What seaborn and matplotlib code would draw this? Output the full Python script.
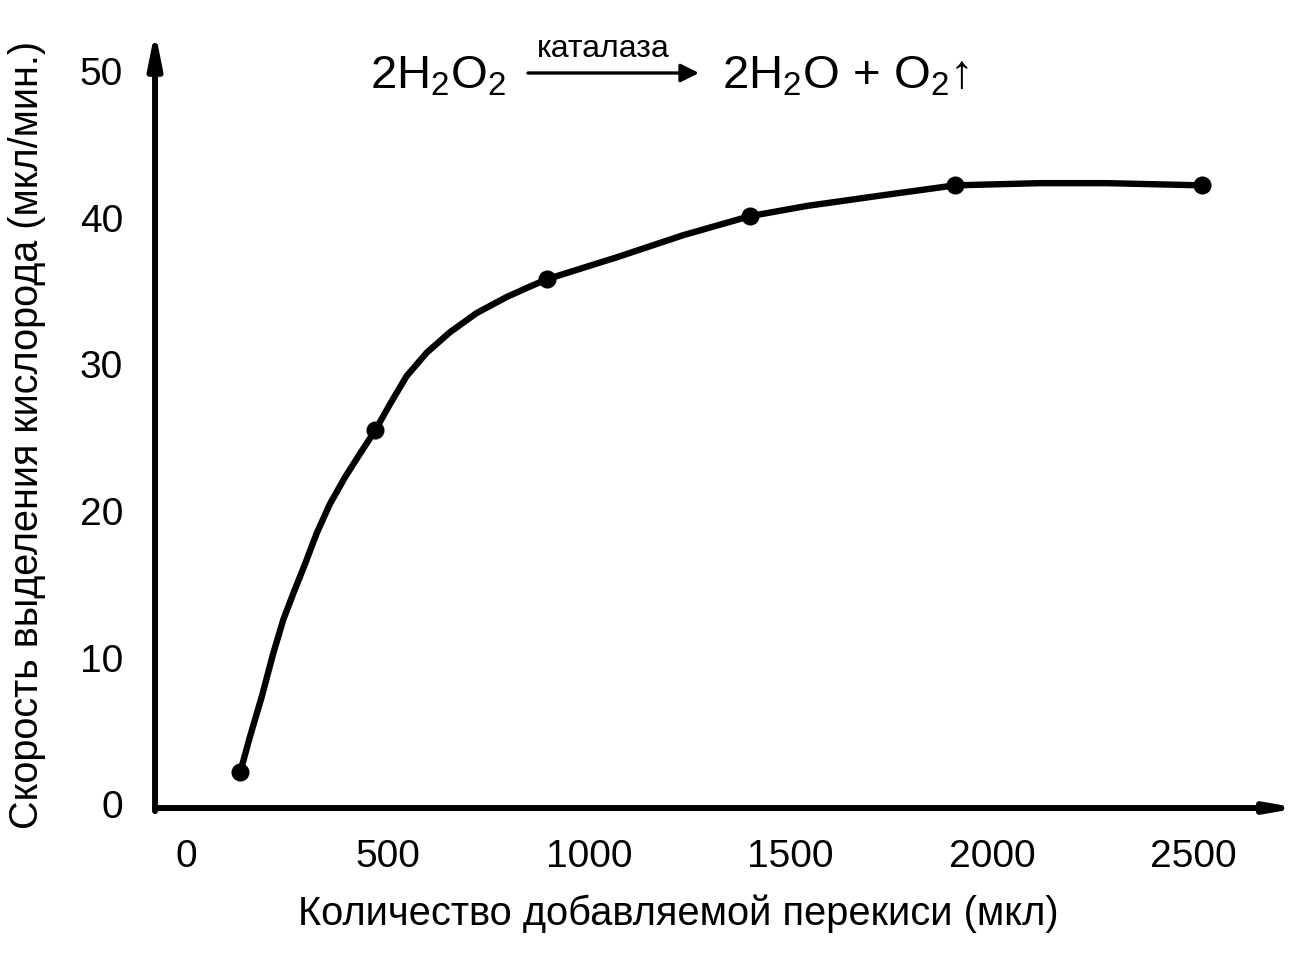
import matplotlib
matplotlib.use("Agg")
import matplotlib.pyplot as plt
import seaborn as sns

# ---- data ----
peroxide_ul = [134, 469, 895, 1399, 1908, 2521]
o2_rate = [2.2, 25.5, 35.8, 40.1, 42.2, 42.2]

# smooth curve through the points
curve_x = [134, 158, 187, 216, 241, 266, 295, 324, 357, 394, 431, 469,
           506, 547, 597, 655, 721, 796, 853, 895, 1069, 1233, 1399,
           1541, 1722, 1908, 2119, 2285, 2521]
curve_y = [2.2, 4.6, 7.3, 10.3, 12.6, 14.4, 16.4, 18.5, 20.5, 22.3, 23.9, 25.5,
           27.3, 29.2, 30.8, 32.2, 33.5, 34.6, 35.3, 35.8, 37.3, 38.8, 40.1,
           40.8, 41.5, 42.2, 42.35, 42.35, 42.2]

x_ticks = [0, 500, 1000, 1500, 2000, 2500]
y_ticks = [0, 10, 20, 30, 40, 50]

x_label = "Количество добавляемой перекиси (мкл)"
y_label = "Скорость выделения кислорода (мкл/мин.)"
catalyst = "каталаза"

sns.set_theme(style="white")
plt.rcParams["font.family"] = ["Liberation Sans", "DejaVu Sans"]
plt.rcParams["text.color"] = "black"
plt.rcParams["axes.labelcolor"] = "black"
plt.rcParams["xtick.color"] = "black"
plt.rcParams["ytick.color"] = "black"

fig = plt.figure(figsize=(12.92, 9.72), dpi=100)
ax = fig.add_axes([0.12, 0.1687, 0.8746, 0.787])

sns.lineplot(x=curve_x, y=curve_y, sort=False, color="black", linewidth=4.6,
             solid_joinstyle="round", solid_capstyle="round", ax=ax)
sns.scatterplot(x=peroxide_ul, y=o2_rate, s=13 ** 2, color="black",
                edgecolor="black", linewidth=0, zorder=3, ax=ax)

ax.set_xlim(-77.4, 2727)
ax.set_ylim(-0.245, 51.9)
for s in ax.spines.values():
    s.set_visible(False)

ax.set_xticks(x_ticks)
ax.set_yticks(y_ticks)
ax.set_xticklabels([str(v) for v in x_ticks])
ax.set_yticklabels([str(v) for v in y_ticks])
ax.tick_params(axis="both", length=0, labelsize=28, colors="black")
ax.tick_params(axis="x", pad=22)
ax.tick_params(axis="y", pad=23)

ax.set_xlabel(x_label, fontsize=28.7, color="black")
ax.set_ylabel(y_label, fontsize=28.5, color="black")
ax.xaxis.set_label_coords(0.463, -0.138)
ax.xaxis.label.set_va("center")
ax.yaxis.set_label_coords(-0.113, 0.488)
ax.yaxis.label.set_va("center")

# axis arrows
ax.annotate("", xy=(1.012, 0), xytext=(0, 0), xycoords="axes fraction",
            arrowprops=dict(arrowstyle="-|>,head_length=1.6,head_width=0.28",
                            mutation_scale=10, lw=4.3, color="black",
                            shrinkA=0, shrinkB=0))
ax.annotate("", xy=(0, 1.016), xytext=(0, -0.004), xycoords="axes fraction",
            arrowprops=dict(arrowstyle="-|>,head_length=2.0,head_width=0.4",
                            mutation_scale=10, lw=4.3, color="black",
                            shrinkA=0, shrinkB=0))

# reaction equation
W, H = 1292, 972
fig.text(370 / W, 1 - 88 / H, r"2H$_\mathregular{2}$O$_\mathregular{2}$",
         fontsize=34, ha="left", va="baseline")
fig.text(603 / W, 1 - 57 / H, catalyst, fontsize=23, ha="center", va="baseline")
ax.annotate("", xy=(699 / W, 1 - 73 / H), xytext=(528 / W, 1 - 73 / H),
            xycoords="figure fraction",
            arrowprops=dict(arrowstyle="-|>,head_length=1.1,head_width=0.55",
                            mutation_scale=10, lw=2.4, color="black",
                            shrinkA=0, shrinkB=0))
fig.text(722 / W, 1 - 88 / H, r"2H$_\mathregular{2}$O + O$_\mathregular{2}$↑",
         fontsize=34, ha="left", va="baseline")

fig.savefig("out.png", dpi=100, facecolor="white")
